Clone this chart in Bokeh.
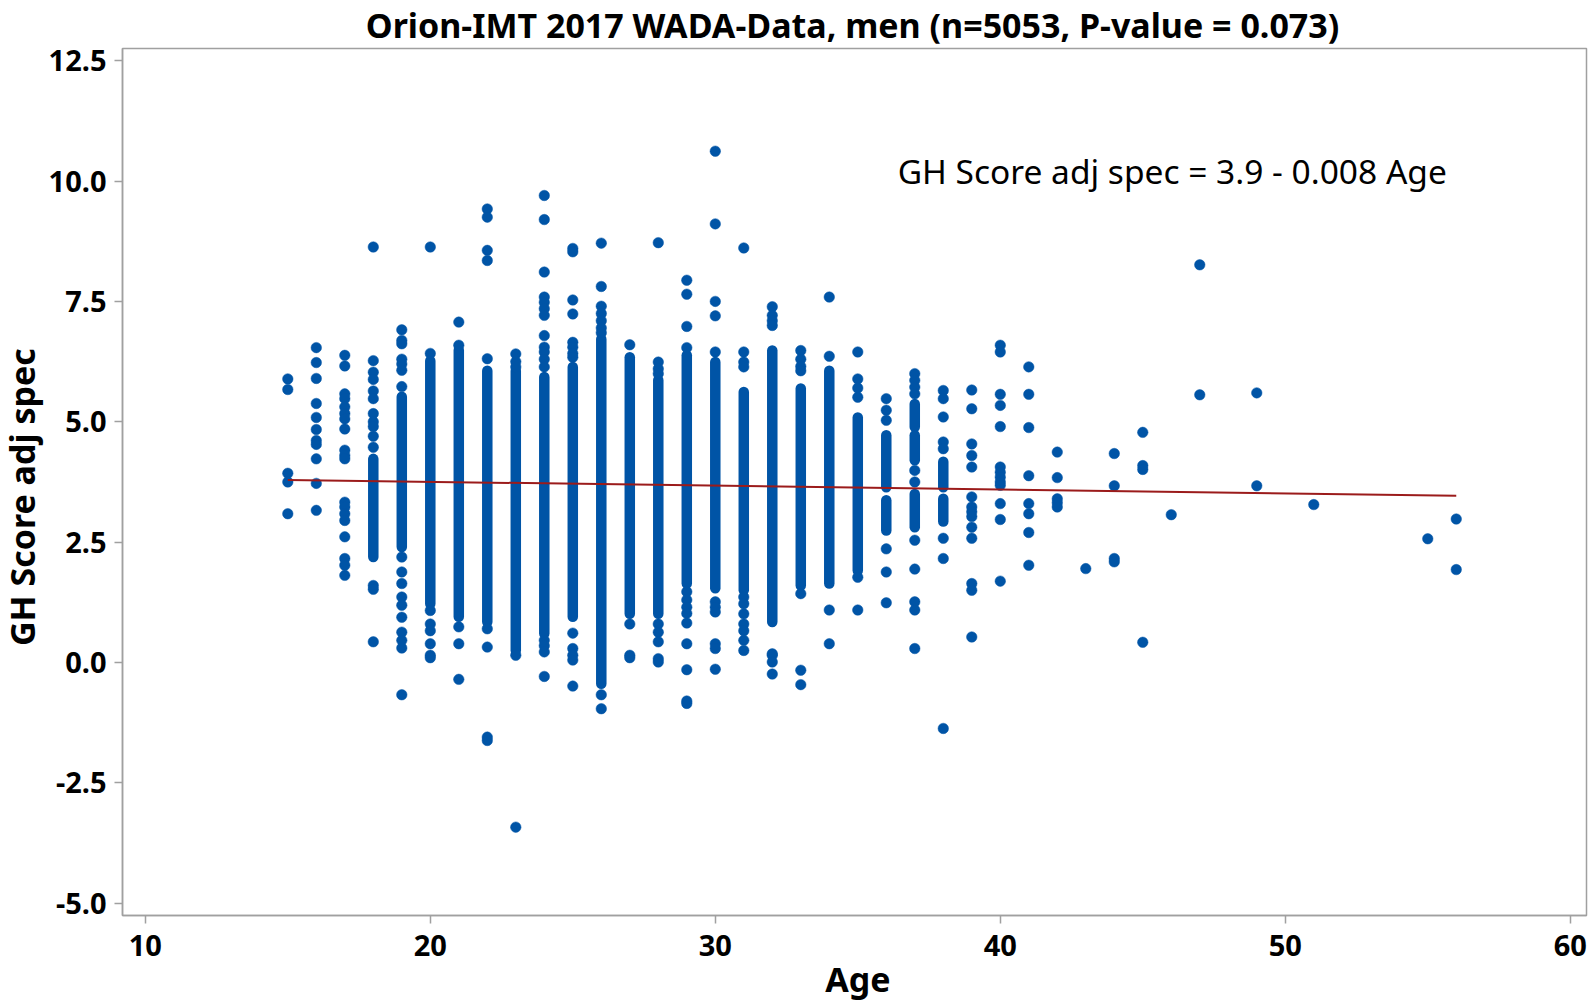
import math
from bokeh.plotting import figure
from bokeh.layouts import column, row
from bokeh.models import Range1d, Label, LabelSet, FixedTicker, ColumnDataSource
from bokeh.core.properties import value
from bokeh.embed import file_html
from bokeh.resources import INLINE

# ---------------- data ----------------
title_text = "Orion-IMT 2017 WADA-Data, men (n=5053, P-value = 0.073)"
x_label = "Age"
y_label = "GH Score adj spec"
equation_text = "GH Score adj spec = 3.9 - 0.008 Age"
x_ticks = [10, 20, 30, 40, 50, 60]
x_tick_labels = ["10", "20", "30", "40", "50", "60"]
y_ticks = [-5.0, -2.5, 0.0, 2.5, 5.0, 7.5, 10.0, 12.5]
y_tick_labels = ["-5.0", "-2.5", "0.0", "2.5", "5.0", "7.5", "10.0", "12.5"]

# regression coefficients
fit_intercept = 3.913
fit_slope = -0.008
fit_age_span = [15, 56]

# densely overplotted stretches of points (age, lowest, highest)
dense_age  = [18,   19,   20,   21,   22,   23,   24,   25,   26,    27,   28,   29,   30,   31,   32,   33,   34,   35,   36,   36,   37,   37,   37,   38,   38]
dense_low  = [2.19, 2.40, 1.22, 0.95, 0.84, 0.25, 0.60, 0.95, -0.44, 1.01, 1.01, 1.64, 1.54, 1.50, 0.84, 1.60, 1.64, 1.91, 3.64, 2.74, 4.89, 4.20, 2.81, 3.64, 2.93]
dense_high = [4.23, 5.52, 6.27, 6.49, 6.06, 6.06, 5.93, 6.14, 6.72,  6.34, 5.87, 6.38, 6.24, 5.62, 6.48, 5.69, 6.06, 5.09, 4.72, 3.37, 5.37, 4.72, 3.50, 4.17, 3.40]

# separately visible points
point_age = (
    [15] * 5 + [16] * 11 + [17] * 19 + [18] * 14 + [19] * 17 + [20] * 8 + [21] * 5 +
    [22] * 9 + [23] * 5 + [24] * 16 + [25] * 13 + [26] * 9 + [27] * 4 + [28] * 9 +
    [29] * 13 + [30] * 11 + [31] * 11 + [32] * 8 + [33] * 7 + [34] * 4 + [35] * 6 +
    [36] * 6 + [37] * 11 + [38] * 8 + [39] * 14 + [40] * 13 + [41] * 8 + [42] * 5 +
    [43] * 1 + [44] * 4 + [45] * 4 + [46] * 1 + [47] * 2 + [49] * 2 + [51] * 1 +
    [55] * 1 + [56] * 2
)
point_score = [
    5.89, 5.67, 3.93, 3.75, 3.09,
    6.54, 6.23, 5.90, 5.38, 5.09, 4.84, 4.61, 4.53, 4.23, 3.72, 3.16,
    6.38, 6.16, 5.58, 5.48, 5.31, 5.17, 5.06, 4.85, 4.41, 4.30, 4.23, 3.33, 3.23, 3.09, 2.95, 2.61, 2.16, 2.02, 1.81,
    8.63, 6.27, 6.03, 5.88, 5.64, 5.48, 5.17, 5.00, 4.90, 4.70, 4.47, 1.60, 1.52, 0.43,
    6.91, 6.69, 6.62, 6.30, 6.20, 6.07, 5.73, 2.19, 1.88, 1.64, 1.36, 1.19, 0.94, 0.63, 0.46, 0.30, -0.67,
    8.63, 6.42, 1.08, 0.80, 0.66, 0.39, 0.15, 0.10,
    7.07, 6.59, 0.74, 0.39, -0.35,
    9.42, 9.25, 8.56, 8.35, 6.31, 0.70, 0.32, -1.55, -1.62,
    6.41, 6.25, 6.14, 0.15, -3.42,
    9.70, 9.20, 8.11, 7.59, 7.48, 7.35, 7.21, 6.79, 6.55, 6.45, 6.30, 6.14, 0.46, 0.35, 0.22, -0.29,
    8.60, 8.53, 7.53, 7.24, 6.65, 6.55, 6.42, 6.34, 0.61, 0.29, 0.15, 0.05, -0.49,
    8.71, 7.81, 7.40, 7.25, 7.10, 6.95, 6.85, -0.67, -0.96,
    6.60, 0.80, 0.15, 0.10,
    8.72, 6.24, 6.10, 6.00, 0.80, 0.63, 0.43, 0.08, 0.01,
    7.94, 7.65, 6.98, 6.54, 1.47, 1.30, 1.15, 1.02, 0.82, 0.39, -0.15, -0.80, -0.85,
    10.62, 9.11, 7.50, 7.20, 6.45, 1.26, 1.15, 1.05, 0.39, 0.29, -0.14,
    8.61, 6.45, 6.24, 6.14, 1.36, 1.22, 1.01, 0.80, 0.66, 0.46, 0.25,
    7.39, 7.21, 7.10, 7.00, 0.18, 0.15, 0.01, -0.24,
    6.48, 6.30, 6.15, 6.06, 1.43, -0.16, -0.46,
    7.59, 6.36, 1.09, 0.39,
    6.45, 5.89, 5.70, 5.51, 1.77, 1.09,
    5.48, 5.24, 5.03, 2.36, 1.88, 1.24,
    6.00, 5.86, 5.72, 5.58, 3.99, 3.75, 2.54, 1.94, 1.26, 1.09, 0.29,
    5.65, 5.48, 5.10, 4.58, 4.44, 2.58, 2.16, -1.37,
    5.66, 5.27, 4.54, 4.30, 4.06, 3.44, 3.23, 3.13, 3.03, 2.81, 2.58, 1.64, 1.50, 0.53,
    6.59, 6.45, 5.57, 5.34, 4.90, 4.06, 3.95, 3.85, 3.75, 3.68, 3.30, 2.97, 1.69,
    6.14, 5.57, 4.88, 3.88, 3.30, 3.09, 2.70, 2.02,
    4.37, 3.84, 3.40, 3.32, 3.23,
    1.95,
    4.34, 3.67, 2.16, 2.09,
    4.78, 4.09, 4.01, 0.42,
    3.07,
    8.26, 5.56,
    5.60, 3.67,
    3.28,
    2.57,
    2.98, 1.93,
]

# ---------------- layout (page pixels) ----------------
BLUE = "#0054a6"
RED = "#9b1b1b"
GRAY = "#a0a0a0"
FONT = "Noto Sans"

TOTAL_W, TOTAL_H = 1592, 1001
LEFT_W = 114                      # strip with y label and y tick labels
TOP_H = 47                        # title strip
BOTTOM_H = 77                     # strip with x tick labels and x label
MAIN_W = TOTAL_W - LEFT_W
MAIN_H = TOTAL_H - TOP_H - BOTTOM_H
UPPER_H = TOP_H + MAIN_H
FRAME_L, FRAME_R = 122, 1586      # plot frame edges on the page
FRAME_T, FRAME_B = 48, 915
X_MIN, X_MAX = 9.2, 60.57
Y_MIN, Y_MAX = -5.255, 12.753
PPU_X = (FRAME_R - FRAME_L) / (X_MAX - X_MIN)
PPU_Y = (FRAME_B - FRAME_T) / (Y_MAX - Y_MIN)


def strip(w, h, xr, yr, left=0, right=0):
    f = figure(width=w, height=h, output_backend="svg", toolbar_location=None,
               x_range=Range1d(*xr), y_range=Range1d(*yr),
               x_axis_type=None, y_axis_type=None, min_border=0,
               min_border_left=left, min_border_right=right)
    f.grid.visible = False
    f.outline_line_color = None
    f.background_fill_color = "white"
    f.border_fill_color = "white"
    return f


# ---- title strip: frame spans the same columns as the plot frame
top = strip(MAIN_W, TOP_H, (X_MIN, X_MAX), (0, TOP_H),
            left=FRAME_L - LEFT_W, right=TOTAL_W - FRAME_R)
top.add_layout(Label(x=X_MIN + (852 - FRAME_L) / PPU_X, y=TOP_H - 24.5, text=title_text,
                     text_font=FONT, text_font_size="34px", text_font_style="bold",
                     text_color="black", text_align="center", text_baseline="middle"))

# ---- left strip: same vertical scale as the plot
left = strip(LEFT_W, UPPER_H, (0, LEFT_W),
             (Y_MAX - (UPPER_H - FRAME_T) / PPU_Y, Y_MAX + FRAME_T / PPU_Y))
ylab_src = ColumnDataSource(dict(y=y_ticks, t=y_tick_labels))
left.add_layout(LabelSet(x=106, y="y", text="t", source=ylab_src,
                         text_font=value(FONT), text_font_size=value("29px"),
                         text_font_style="bold", text_color="black",
                         text_align="right", text_baseline="middle"))
left.add_layout(Label(x=21, y=Y_MAX - (496.6 - FRAME_T) / PPU_Y, text=y_label, angle=math.pi / 2,
                      text_font=FONT, text_font_size="34px", text_font_style="bold",
                      text_color="black", text_align="center", text_baseline="middle"))

# ---- bottom strip (full width): same horizontal scale as the plot
bottom = strip(TOTAL_W, BOTTOM_H,
               (X_MIN - FRAME_L / PPU_X, X_MIN + (TOTAL_W - FRAME_L) / PPU_X),
               (0, BOTTOM_H))
xlab_src = ColumnDataSource(dict(x=x_ticks, y=[BOTTOM_H - 21] * len(x_ticks), t=x_tick_labels))
bottom.add_layout(LabelSet(x="x", y="y", text="t", source=xlab_src,
                           text_font=value(FONT), text_font_size=value("29px"),
                           text_font_style="bold", text_color="black",
                           text_align="center", text_baseline="middle"))
bottom.add_layout(Label(x=X_MIN + (857.5 - FRAME_L) / PPU_X, y=BOTTOM_H - 54, text=x_label,
                        text_font=FONT, text_font_size="34px", text_font_style="bold",
                        text_color="black", text_align="center", text_baseline="middle"))

# ---- main chart (axes draw ticks only; their labels live in the strips)
p = figure(
    width=MAIN_W, height=MAIN_H,
    output_backend="svg", toolbar_location=None,
    x_range=Range1d(X_MIN, X_MAX), y_range=Range1d(Y_MIN, Y_MAX),
    min_border_left=FRAME_L - LEFT_W, min_border_right=TOTAL_W - FRAME_R,
    min_border_top=FRAME_T - TOP_H, min_border_bottom=UPPER_H - FRAME_B,
)
p.background_fill_color = "white"
p.border_fill_color = "white"
p.outline_line_color = GRAY
p.outline_line_width = 1.5
p.grid.visible = False

for ax in (p.xaxis[0], p.yaxis[0]):
    ax.axis_line_color = GRAY
    ax.axis_line_width = 1.5
    ax.major_tick_line_color = GRAY
    ax.major_tick_line_width = 1.5
    ax.major_tick_out = 8
    ax.major_tick_in = 0
    ax.minor_tick_line_color = None
    ax.major_label_text_color = None
    ax.major_label_text_font_size = "0px"
    ax.major_label_standoff = 0

p.xaxis.ticker = FixedTicker(ticks=x_ticks)
p.yaxis.ticker = FixedTicker(ticks=y_ticks)

dense_src = ColumnDataSource(dict(age=dense_age, low=dense_low, high=dense_high))
p.segment(x0="age", y0="low", x1="age", y1="high", source=dense_src,
          line_color=BLUE, line_width=10.5, line_cap="round")

pts_src = ColumnDataSource(dict(age=point_age, score=point_score))
p.scatter(x="age", y="score", source=pts_src, size=10.5,
          fill_color=BLUE, line_color=BLUE, line_width=0.5)

fit_y = [fit_intercept + fit_slope * a for a in fit_age_span]
p.line(fit_age_span, fit_y, line_color=RED, line_width=2)

p.add_layout(Label(x=36.40, y=10.20, text=equation_text,
                   text_font=FONT, text_font_size="33.5px", text_color="black",
                   text_align="left", text_baseline="middle"))

layout = column(row(left, column(top, p)), bottom)
open("out.html", "w").write(file_html(layout, INLINE))
